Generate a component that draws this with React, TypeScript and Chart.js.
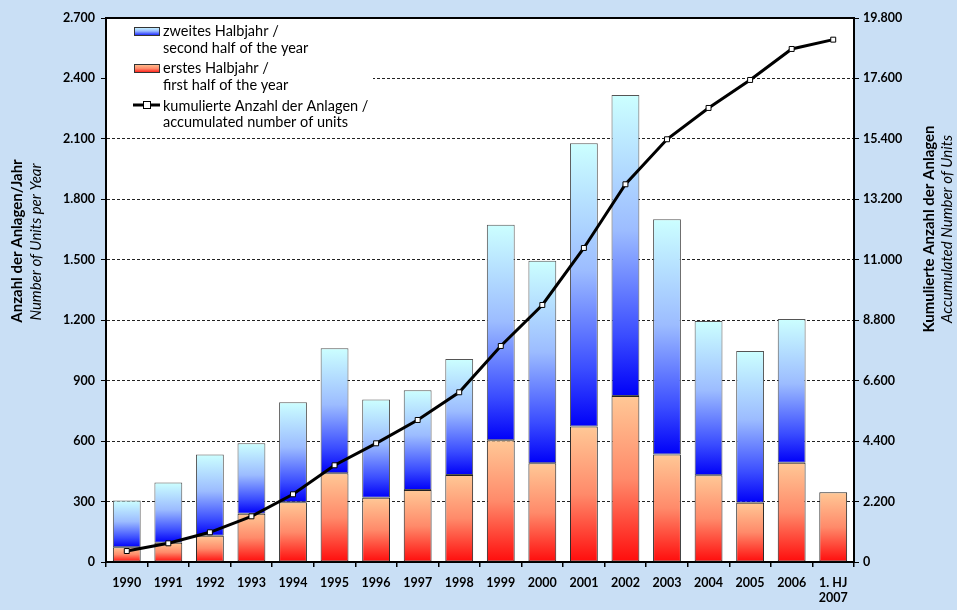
import React, { useEffect, useRef } from "react";
import { Chart, registerables } from "chart.js";

Chart.register(...registerables);

const categories: (string | string[])[] = [
  "1990", "1991", "1992", "1993", "1994", "1995", "1996", "1997", "1998",
  "1999", "2000", "2001", "2002", "2003", "2004", "2005", "2006", ["1. HJ", "2007"],
];
const firstHalf = [73, 96, 130, 240, 296, 440, 319, 357, 432, 604, 490, 672, 824, 534, 430, 294, 493, 346];
const secondHalf = [232, 298, 403, 349, 497, 621, 487, 495, 575, 1070, 1005, 1406, 1494, 1167, 766, 753, 713, null];
const cumulative = [400, 680, 1081, 1663, 2464, 3520, 4320, 5169, 6177, 7862, 9355, 11430, 13748, 15386, 16526, 17545, 18673, 19012];

const leftTicks = [0, 300, 600, 900, 1200, 1500, 1800, 2100, 2400, 2700];
const rightTicks = [0, 2200, 4400, 6600, 8800, 11000, 13200, 15400, 17600, 19800];

const legendLabels = [
  ["zweites Halbjahr /", "second half of the year"],
  ["erstes Halbjahr /", "first half of the year"],
  ["kumulierte Anzahl der Anlagen /", "accumulated number of units"],
];
const leftTitle = ["Anzahl der Anlagen/Jahr", "Number of Units per Year"];
const rightTitle = ["Kumulierte Anzahl der Anlagen", "Accumulated Number of Units"];

const FONT = "Lato, 'Open Sans', sans-serif";

function fmt(v: number): string {
  return String(Math.round(v)).replace(/\B(?=(\d{3})+(?!\d))/g, ".");
}

function blueGrad(ctx: CanvasRenderingContext2D, top: number, bottom: number) {
  const g = ctx.createLinearGradient(0, top, 0, bottom);
  g.addColorStop(0, "#ccffff");
  g.addColorStop(0.45, "#9cbcff");
  g.addColorStop(0.8, "#3a4cff");
  g.addColorStop(1, "#0000f8");
  return g;
}
function redGrad(ctx: CanvasRenderingContext2D, top: number, bottom: number) {
  const g = ctx.createLinearGradient(0, top, 0, bottom);
  g.addColorStop(0, "#ffc896");
  g.addColorStop(0.5, "#ff8a6a");
  g.addColorStop(1, "#ff0c0c");
  return g;
}

export default function App() {
  const ref = useRef<HTMLCanvasElement | null>(null);

  useEffect(() => {
    document.body.style.margin = "0";
    const canvas = ref.current;
    if (!canvas) return;

    const bgPlugin = {
      id: "bgPlugin",
      beforeDraw(chart: any) {
        const { ctx, chartArea } = chart;
        ctx.save();
        ctx.fillStyle = "#ffffff";
        ctx.fillRect(chartArea.left, chartArea.top, chartArea.right - chartArea.left, chartArea.bottom - chartArea.top);
        ctx.restore();
      },
      afterDraw(chart: any) {
        const { ctx, chartArea } = chart;
        ctx.save();
        // top border
        ctx.strokeStyle = "#000";
        ctx.lineWidth = 2;
        ctx.beginPath();
        ctx.moveTo(chartArea.left - 1, chartArea.top);
        ctx.lineTo(chartArea.right + 1, chartArea.top);
        ctx.stroke();

        // legend box
        ctx.fillStyle = "#ffffff";
        ctx.fillRect(chartArea.left + 1, chartArea.top + 1, 266, 112);

        const tx = 163;
        ctx.font = `14.5px ${FONT}`;
        ctx.fillStyle = "#000";
        ctx.textBaseline = "middle";
        ctx.textAlign = "left";
        const ys = [[31, 48], [68, 85], [106, 122]];
        legendLabels.forEach((lines, i) => {
          ctx.fillText(lines[0], tx, ys[i][0]);
          ctx.fillText(lines[1], tx, ys[i][1]);
        });
        // swatches
        ctx.lineWidth = 1;
        ctx.fillStyle = blueGrad(ctx, 27, 36);
        ctx.fillRect(134, 27, 25, 9);
        ctx.strokeStyle = "#333";
        ctx.strokeRect(134.5, 27.5, 25, 8);
        ctx.fillStyle = redGrad(ctx, 64, 73);
        ctx.fillRect(134, 64, 25, 9);
        ctx.strokeRect(134.5, 64.5, 25, 8);
        // line sample
        ctx.strokeStyle = "#000";
        ctx.lineWidth = 3;
        ctx.beginPath();
        ctx.moveTo(133, 105);
        ctx.lineTo(160, 105);
        ctx.stroke();
        ctx.fillStyle = "#fff";
        ctx.lineWidth = 1;
        ctx.fillRect(143, 101, 7, 7);
        ctx.strokeRect(143.5, 101.5, 7, 7);

        // axis titles
        const drawV = (x: number, y: number, text: string, font: string) => {
          ctx.save();
          ctx.translate(x, y);
          ctx.rotate(-Math.PI / 2);
          ctx.font = font;
          ctx.textAlign = "center";
          ctx.textBaseline = "middle";
          ctx.fillStyle = "#000";
          ctx.fillText(text, 0, 0);
          ctx.restore();
        };
        drawV(17, 241, leftTitle[0], `bold 15px ${FONT}`);
        drawV(36, 242, leftTitle[1], `italic 15px ${FONT}`);
        drawV(929, 229, rightTitle[0], `bold 15px ${FONT}`);
        drawV(947, 229, rightTitle[1], `italic 15px ${FONT}`);
        ctx.restore();
      },
    };

    const segColor = (isBlue: boolean) => (c: any) => {
      const chart = c.chart;
      const y = chart.scales && chart.scales.y;
      if (c.type !== "data" || !y || y.top === undefined) return isBlue ? "#6680ff" : "#ff8866";
      const i = c.dataIndex;
      const base = isBlue ? firstHalf[i] : 0;
      const top = isBlue ? firstHalf[i] + (secondHalf[i] || 0) : firstHalf[i];
      const pt = y.getPixelForValue(top);
      const pb = y.getPixelForValue(base);
      if (!isFinite(pt) || !isFinite(pb) || pb - pt < 1) return isBlue ? "#6680ff" : "#ff8866";
      return isBlue ? blueGrad(chart.ctx, pt, pb) : redGrad(chart.ctx, pt, pb);
    };

    const tickFont = { family: FONT, size: 12.5, weight: "bold" };

    const chart = new Chart(canvas, {
      type: "bar",
      data: {
        labels: categories,
        datasets: [
          {
            type: "line",
            label: "kumulierte Anzahl der Anlagen",
            data: cumulative,
            yAxisID: "y2",
            borderColor: "#000",
            borderWidth: 3,
            pointStyle: "rect",
            pointRadius: 3.5,
            pointBackgroundColor: "#fff",
            pointBorderColor: "#000",
            pointBorderWidth: 1,
            tension: 0,
            order: 0,
          } as any,
          {
            label: "erstes Halbjahr",
            data: firstHalf,
            yAxisID: "y",
            backgroundColor: segColor(false),
            borderColor: "#222",
            borderWidth: 1,
            borderSkipped: false,
            barPercentage: 0.67,
            categoryPercentage: 1,
            order: 1,
          },
          {
            label: "zweites Halbjahr",
            data: secondHalf,
            yAxisID: "y",
            backgroundColor: segColor(true),
            borderColor: "#555",
            borderWidth: 1,
            borderSkipped: false,
            barPercentage: 0.67,
            categoryPercentage: 1,
            order: 1,
          },
        ],
      },
      options: {
        responsive: false,
        animation: false,
        devicePixelRatio: 1,
        layout: { padding: { top: 18, left: 0, right: 0, bottom: 0 } },
        plugins: { legend: { display: false }, tooltip: { enabled: false } },
        scales: {
          x: {
            stacked: true,
            offset: true,
            afterFit(s: any) { s.height = 48; },
            grid: { drawOnChartArea: false, drawTicks: true, tickLength: 5, offset: true, color: "#000", lineWidth: 1.5 },
            border: { display: true, color: "#000", width: 2 },
            ticks: {
              color: "#000",
              font: tickFont,
              padding: 8,
              maxRotation: 0,
              autoSkip: false,
            },
          },
          y: {
            stacked: true,
            position: "left",
            min: 0,
            max: 2700,
            afterFit(s: any) { s.width = 106; },
            afterBuildTicks(s: any) { s.ticks = leftTicks.map((v) => ({ value: v })); },
            grid: { color: "#222", lineWidth: 1, tickLength: 5, tickColor: "#000", drawTicks: true },
            border: { display: true, color: "#000", width: 2, dash: [3, 2] },
            ticks: {
              color: "#000",
              font: tickFont,
              padding: 6,
              callback: (v: any) => fmt(Number(v)),
            },
          },
          y2: {
            position: "right",
            min: 0,
            max: 19800,
            afterFit(s: any) { s.width = 103; },
            afterBuildTicks(s: any) { s.ticks = rightTicks.map((v) => ({ value: v })); },
            grid: { drawOnChartArea: false, drawTicks: true, tickLength: 5, color: "#000" },
            border: { display: true, color: "#000", width: 2 },
            ticks: {
              color: "#000",
              font: tickFont,
              padding: 4,
              callback: (v: any) => fmt(Number(v)),
            },
          },
        },
      } as any,
      plugins: [bgPlugin],
    });

    return () => chart.destroy();
  }, []);

  return (
    <div style={{ position: "absolute", left: 0, top: 0, width: 957, height: 610, background: "#c9dff5" }}>
      <canvas ref={ref} width={957} height={610} style={{ display: "block", width: 957, height: 610 }} />
    </div>
  );
}
